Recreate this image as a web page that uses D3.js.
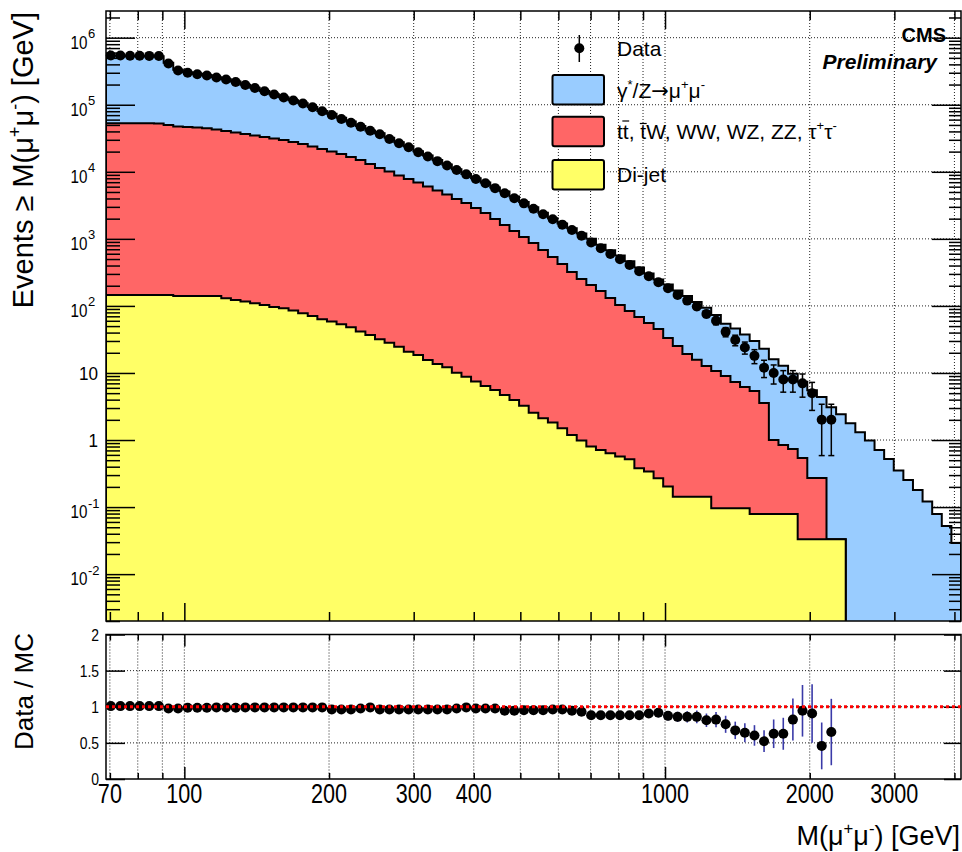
<!DOCTYPE html>
<html><head><meta charset="utf-8">
<script src="https://cdn.jsdelivr.net/npm/d3@7"></script>
<style>
body{margin:0;background:#fff}
svg{display:block}
text{font-family:"Liberation Sans",Arial,Helvetica,sans-serif;fill:#000}
</style></head>
<body><svg id="c" width="962" height="852"></svg>
<script>
// ---------------- data ----------------
const massRange = [68.71, 4128];      // GeV, histogram range
const nBins = 89;                      // equal bins in log(M)

// cumulative data counts, N(>= M), per bin (bins with data only)
const dataCounts = [543000,541000,539000,537200,535300,533600,412400,324300,299800,284700,
  273200,255000,238100,218600,197100,177800,158800,142300,128300,115800,
  104400,91700,79900,70400,61360,54040,47100,41060,36280,30870,
  26640,23220,19560,16880,14410,12390,10650,9160,7820,6750,
  5703,4786,4032,3383,2811,2328,1960,1629,1358,1116,
  884,724,596,497,408,330,277,226,183,146,
  120,98,76,60,41,31,24,18,12,10,
  8,8,7,5,2,2];

// Data / MC ratio per bin
const ratioValues = [1.009,1.009,1.009,1.009,1.009,1.009,0.977,0.977,0.986,0.986,
  0.986,0.991,0.991,0.986,0.991,0.991,0.991,0.991,0.991,0.991,
  0.991,0.991,0.991,0.963,0.963,0.963,0.977,0.991,0.963,0.963,
  0.963,0.963,0.963,0.963,0.963,0.963,0.977,0.991,0.977,0.977,
  0.977,0.944,0.944,0.953,0.953,0.953,0.963,0.963,0.944,0.930,
  0.883,0.883,0.883,0.883,0.883,0.883,0.907,0.916,0.874,0.860,
  0.860,0.860,0.813,0.822,0.757,0.673,0.640,0.603,0.523,0.626,
  0.626,0.822,0.944,0.907,0.458,0.650];

// stacked MC (cumulative): total = DY + ttbar/others + dijet
const stackDY = [538200,536200,534200,532400,530500,528800,422100,331900,304100,288700,
  277100,257300,240300,221700,198900,179400,160200,143600,129500,116900,
  105300,92500,80600,73100,63720,56120,48210,41430,37670,32060,
  27660,24110,20310,17530,14960,12870,10900,9243,8004,6909,
  5837,5070,4271,3550,2950,2443,2035,1692,1439,1200,
  1001,820,675,563,462,374,305,247,209,170,
  140,114,93.5,73,54.2,46.1,37.5,29.9,22.9,16.0,
  12.8,9.73,7.42,5.51,4.37,3.08,2.43,1.78,1.31,0.98,
  0.71,0.52,0.35,0.254,0.18,0.121,0.079,0.052,0.029];

// ttbar, tW, WW, WZ, ZZ, tautau + dijet
const stackTT = [52930,52930,52930,52930,52930,52560,49940,47430,46620,45830,
  44590,42790,40640,38590,36660,34820,33070,31420,29830,27860,
  26010,23870,21900,20110,18450,16650,15020,13090,11410,10120,
  8818,7820,6934,6045,5271,4594,3936,3431,2890,2434,
  1981,1612,1312,1068,869,683,537,423,321,253,
  205.5,167.2,131.5,103.4,84.2,68.5,55.7,45.4,33.3,25.3,
  19.2,15.7,12.7,10.7,9.04,7.35,6.19,5.40,3.58,1.00,
  0.846,0.737,0.541,0.272,0.272,0.0332,0.0332,0,0,0,
  0,0,0,0,0,0,0,0,0];

// dijet
const stackJet = [145.9,145.9,145.9,145.9,145.9,145.9,145.9,140.9,140.9,140.9,
  140.9,140.9,130.3,122.7,115.9,109.6,103.5,96.6,92.3,85.1,
  77.8,70.8,63.2,58.3,53.2,48.1,41.4,36.9,31.8,28.3,
  24.7,20.8,18.6,15.6,13.6,12.2,10.1,8.81,7.43,6.41,
  5.58,4.71,3.96,3.23,2.56,2.11,1.82,1.50,1.19,0.98,
  0.80,0.71,0.635,0.566,0.518,0.380,0.338,0.270,0.202,0.143,
  0.143,0.143,0.143,0.0962,0.0962,0.0962,0.0962,0.0791,0.0791,0.0791,
  0.0791,0.0791,0.0332,0.0332,0.0332,0.0332,0.0332,0,0,0,
  0,0,0,0,0,0,0,0,0];

const seriesNames = ["Data","γ*/Z→μ+μ-","tt, tW, WW, WZ, ZZ, τ+τ-","Di-jet"];
const seriesColors = ["#000000","#99ccff","#ff6666","#ffff66"];

const yMainTickValues = [1e-2,1e-1,1,10,1e2,1e3,1e4,1e5,1e6];
const yMainTickLabels = ["10^-2","10^-1","1","10","10^2","10^3","10^4","10^5","10^6"];
const xGridValues = [70,80,90,100,200,300,400,500,600,700,800,900,1000,2000,3000,4000];
const xLabelValues = [70,100,200,300,400,1000,2000,3000];
const xLabels = ["70","100","200","300","400","1000","2000","3000"];
const rTickValues = [0,0.5,1,1.5,2];
const rTickLabels = ["0","0.5","1","1.5","2"];

// ---------------- layout ----------------
const svg = d3.select("#c");
const L = 106, R = 961, T = 11, B = 621;      // main frame
const RT = 634.5, RB = 779;                    // ratio frame

const x = d3.scaleLog().domain(massRange).range([L, R]);
const y = d3.scaleLog().domain([0.002, 2.5e6]).range([B, T]);
const yr = d3.scaleLinear().domain([0, 2]).range([RB, RT]);

const lo = Math.log(massRange[0]), hi = Math.log(massRange[1]);
const edges = d3.range(nBins + 1).map(i => Math.exp(lo + i * (hi - lo) / nBins));
const centers = d3.range(nBins).map(i => Math.sqrt(edges[i] * edges[i + 1]));

svg.append("rect").attr("width", 962).attr("height", 852).attr("fill", "#fff");

const defs = svg.append("defs");
defs.append("clipPath").attr("id", "clipMain").append("rect")
  .attr("x", L).attr("y", T).attr("width", R - L).attr("height", B - T);

// ---------------- grids ----------------
const grid = svg.append("g").attr("stroke", "#222").attr("stroke-width", 1)
  .attr("stroke-dasharray", "1,2").attr("fill", "none");
xGridValues.forEach(v => {
  grid.append("line").attr("x1", x(v)).attr("x2", x(v)).attr("y1", T).attr("y2", B);
  grid.append("line").attr("x1", x(v)).attr("x2", x(v)).attr("y1", RT).attr("y2", RB);
});
yMainTickValues.forEach(v => grid.append("line").attr("x1", L).attr("x2", R).attr("y1", y(v)).attr("y2", y(v)));
[0.5, 1, 1.5].forEach(v => grid.append("line").attr("x1", L).attr("x2", R).attr("y1", yr(v)).attr("y2", yr(v)));

// ---------------- stacked histograms ----------------
const gH = svg.append("g").attr("clip-path", "url(#clipMain)");
function yv(v) { return v > 0 ? Math.min(B + 2, y(v)) : B + 2; }
function stepPts(vals) {
  const p = [[x(edges[0]), B + 2]];
  vals.forEach((v, i) => { p.push([x(edges[i]), yv(v)], [x(edges[i + 1]), yv(v)]); });
  p.push([x(edges[nBins]), B + 2]);
  return p;
}
const line = d3.line();
[[stackDY, seriesColors[1]], [stackTT, seriesColors[2]], [stackJet, seriesColors[3]]].forEach(([vals, col]) => {
  const pts = stepPts(vals);
  gH.append("path").attr("d", line(pts) + "Z").attr("fill", col);
  gH.append("path").attr("d", line(pts)).attr("fill", "none").attr("stroke", "#000")
    .attr("stroke-width", 2).attr("stroke-linejoin", "miter");
});

// ---------------- frames & ticks ----------------
function frame(y0, y1) {
  svg.append("rect").attr("x", L).attr("y", y0).attr("width", R - L).attr("height", y1 - y0)
    .attr("fill", "none").attr("stroke", "#000").attr("stroke-width", 1.5);
}
frame(T, B); frame(RT, RB);

function tickAxis(gen, tx, ty, values, size) {
  const g = svg.append("g").attr("transform", `translate(${tx},${ty})`)
    .call(gen.tickValues(values).tickSize(size).tickSizeOuter(0).tickFormat(""));
  g.select(".domain").remove();
  g.selectAll(".tick line").attr("stroke", "#000").attr("stroke-width", 1.5);
}
const xMajor = [100, 1000];
const xMinor = xGridValues.filter(v => !xMajor.includes(v));
tickAxis(d3.axisBottom(x), 0, B, xMinor, -9);
tickAxis(d3.axisBottom(x), 0, B, xMajor, -18);
tickAxis(d3.axisTop(x), 0, T, xMinor, -9);
tickAxis(d3.axisTop(x), 0, T, xMajor, -18);
tickAxis(d3.axisBottom(x), 0, RB, xMinor, -6);
tickAxis(d3.axisBottom(x), 0, RB, xMajor, -12);
tickAxis(d3.axisTop(x), 0, RT, xMinor, -6);
tickAxis(d3.axisTop(x), 0, RT, xMajor, -12);
const yMinor = [];
for (let e = -3; e <= 6; e++) for (let m = 2; m <= 9; m++) {
  const v = m * Math.pow(10, e); if (v >= 0.002 && v <= 2.5e6) yMinor.push(v);
}
tickAxis(d3.axisLeft(y), L, 0, yMinor, -14);
tickAxis(d3.axisLeft(y), L, 0, yMainTickValues, -29);
tickAxis(d3.axisRight(y), R, 0, yMinor, -12);
tickAxis(d3.axisRight(y), R, 0, yMainTickValues, -29);
tickAxis(d3.axisLeft(yr), L, 0, rTickValues, -19);
tickAxis(d3.axisRight(yr), R, 0, rTickValues, -17);

// ---------------- tick labels ----------------
function scaledText(px, py, str, size, sx, anchor, weight) {
  const g = svg.append("g").attr("transform", `translate(${px},${py}) scale(${sx},1)`);
  return g.append("text").attr("text-anchor", anchor).attr("font-size", size)
    .attr("font-weight", weight || "normal").text(str);
}
yMainTickValues.forEach((v, i) => {
  const ty = y(v);
  const lab = yMainTickLabels[i];
  if (lab.indexOf("^") < 0) {
    scaledText(98, ty + 6.8, lab, 19, 0.9, "end");
  } else {
    const [base, ex] = lab.split("^");
    scaledText(87.5, ty + 11, base, 19, 0.8, "end");
    svg.append("text").attr("x", 88).attr("y", ty + 0.5).attr("font-size", 13).text(ex);
  }
});
xLabelValues.forEach((v, i) => scaledText(x(v), 803, xLabels[i], 27, 0.8, "middle"));
rTickValues.forEach((v, i) => scaledText(99, yr(v) + 6, rTickLabels[i], 17, 0.82, "end"));

// ---------------- rich text helper ----------------
function rich(textSel, parts, size) {
  let off = 0;
  parts.forEach(p => {
    const ts = textSel.append("tspan").text(p.t);
    const target = p.sup ? -size * 0.42 : 0;
    if (p.sup) ts.attr("font-size", size * 0.62);
    if (p.font) ts.attr("font-family", p.font);
    const dy = target - off;
    if (dy) ts.attr("dy", dy);
    off = target;
  });
  return textSel;
}

// axis titles
const gYT = svg.append("g").attr("transform", "translate(33,12) rotate(-90)");
rich(gYT.append("text").attr("text-anchor", "end").attr("font-size", 29),
  [{t: "Events ≥ M(μ"}, {t: "+", sup: 1}, {t: "μ"}, {t: "-", sup: 1}, {t: ") [GeV]"}], 29);
const gRT = svg.append("g").attr("transform", "translate(33,633) rotate(-90)");
gRT.append("text").attr("text-anchor", "end").attr("font-size", 26).text("Data / MC");
rich(svg.append("text").attr("x", 960).attr("y", 845).attr("text-anchor", "end").attr("font-size", 27),
  [{t: "M(μ"}, {t: "+", sup: 1}, {t: "μ"}, {t: "-", sup: 1}, {t: ") [GeV]"}], 27);

// ---------------- data points (main) ----------------
const gD = svg.append("g");
dataCounts.forEach((n, i) => {
  const cx = x(centers[i]);
  const e = Math.sqrt(n);
  const yHi = y(n + e), yLo = y(Math.max(n - e, 0.0021));
  gD.append("line").attr("x1", cx).attr("x2", cx).attr("y1", yHi).attr("y2", yLo)
    .attr("stroke", "#000").attr("stroke-width", 1.5);
  [yHi, yLo].forEach(yy => gD.append("line").attr("x1", cx - 3).attr("x2", cx + 3)
    .attr("y1", yy).attr("y2", yy).attr("stroke", "#000").attr("stroke-width", 1.5));
});
dataCounts.forEach((n, i) => {
  gD.append("circle").attr("cx", x(centers[i])).attr("cy", y(n)).attr("r", 5).attr("fill", "#000");
});

// ---------------- ratio panel ----------------
const gR = svg.append("g");
ratioValues.forEach((r, i) => {
  const cx = x(centers[i]), cy = yr(r);
  const err = r / Math.sqrt(dataCounts[i]);
  gR.append("line").attr("x1", x(edges[i])).attr("x2", x(edges[i + 1])).attr("y1", cy).attr("y2", cy)
    .attr("stroke", "#3a3aa8").attr("stroke-width", 1);
  gR.append("line").attr("x1", cx).attr("x2", cx).attr("y1", yr(Math.min(2, r + err))).attr("y2", yr(Math.max(0, r - err)))
    .attr("stroke", "#3a3aa8").attr("stroke-width", 1.6);
});
ratioValues.forEach((r, i) => {
  gR.append("circle").attr("cx", x(centers[i])).attr("cy", yr(r)).attr("r", 5).attr("fill", "#000");
});
svg.append("line").attr("x1", L).attr("x2", R).attr("y1", yr(1)).attr("y2", yr(1))
  .attr("stroke", "#ff0000").attr("stroke-width", 3).attr("stroke-dasharray", "3,3");

// ---------------- legend ----------------
const lg = svg.append("g");
lg.append("line").attr("x1", 579.3).attr("x2", 579.3).attr("y1", 35).attr("y2", 62)
  .attr("stroke", "#000").attr("stroke-width", 1.5);
lg.append("circle").attr("cx", 579.3).attr("cy", 48.3).attr("r", 5).attr("fill", "#000");
lg.append("text").attr("x", 617).attr("y", 56).attr("font-size", 21).text(seriesNames[0]);
[[75, 98], [116.7, 138.5], [160, 182]].forEach(([by, ty], k) => {
  lg.append("rect").attr("x", 552.5).attr("y", by).attr("width", 51.5).attr("height", 29.5)
    .attr("rx", 2).attr("fill", seriesColors[k + 1]).attr("stroke", "#000").attr("stroke-width", 2);
});
rich(lg.append("text").attr("x", 617).attr("y", 98).attr("font-size", 21),
  [{t: "γ"}, {t: "*", sup: 1}, {t: "/Z"}, {t: "→", font: '"DejaVu Sans",sans-serif'}, {t: "μ"}, {t: "+", sup: 1}, {t: "μ"}, {t: "-", sup: 1}], 21);
const ttText = rich(lg.append("text").attr("x", 617).attr("y", 138.5).attr("font-size", 21),
  [{t: "tt, tW, WW, WZ, ZZ, τ"}, {t: "+", sup: 1}, {t: "τ"}, {t: "-", sup: 1}], 21);
try {
  const node = ttText.node();
  [1, 4].forEach((ci, k) => {
    const s = node.getStartPositionOfChar(ci), e = node.getEndPositionOfChar(ci);
    const yy = k === 0 ? 138.5 - 17.5 : 138.5 - 15;
    lg.append("line").attr("x1", s.x - 0.5).attr("x2", e.x + 0.5).attr("y1", yy).attr("y2", yy)
      .attr("stroke", "#000").attr("stroke-width", 1.2);
  });
} catch (err) {}
lg.append("text").attr("x", 617).attr("y", 182).attr("font-size", 21).text(seriesNames[3]);

// ---------------- CMS label ----------------
svg.append("text").attr("x", 946).attr("y", 42).attr("text-anchor", "end")
  .attr("font-size", 20).attr("font-weight", "bold").text("CMS");
svg.append("text").attr("x", 937).attr("y", 69).attr("text-anchor", "end")
  .attr("font-size", 21).attr("font-weight", "bold").attr("font-style", "italic").text("Preliminary");
</script>
</body></html>
